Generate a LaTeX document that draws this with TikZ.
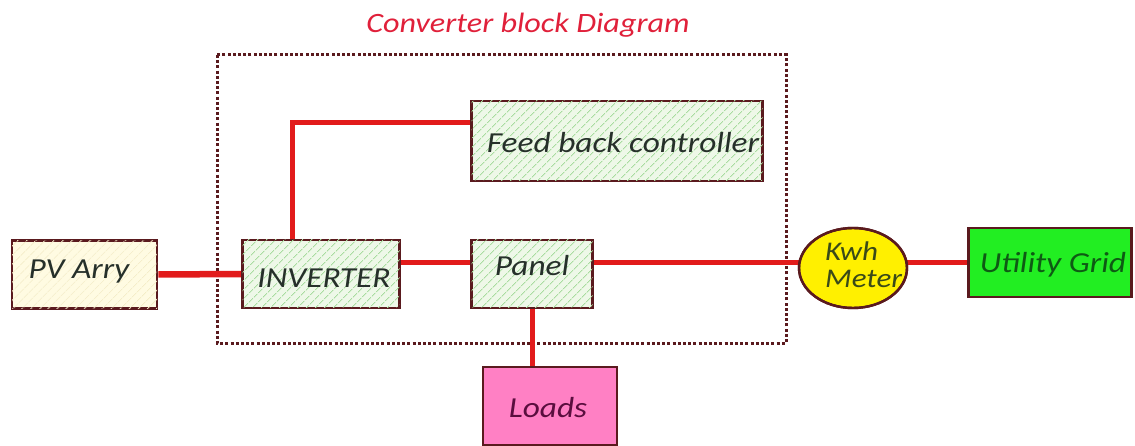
\documentclass[tikz,border=0pt]{standalone}
\usepackage{fontspec}
\usepackage{graphicx}
\setmainfont{Carlito}
\usetikzlibrary{patterns.meta,shapes.geometric,backgrounds}
\definecolor{wirered}{HTML}{E21B1B}
\definecolor{boxedge}{HTML}{5A1A1E}
\definecolor{hatchfill}{HTML}{EEF8E8}
\definecolor{hatchline}{HTML}{A9DCA0}
\definecolor{creamfill}{HTML}{FFFBE2}
\definecolor{creamline}{HTML}{F4ECC4}
\definecolor{txt}{HTML}{26302A}
\definecolor{metertxt}{HTML}{3A4A18}
\definecolor{gridtxt}{HTML}{0E5A14}
\definecolor{loadtxt}{HTML}{5A0E3E}
\definecolor{titlered}{HTML}{E0203A}
\definecolor{pinkfill}{HTML}{FF80C4}
\definecolor{gridgreen}{HTML}{22EE22}
\definecolor{meteryellow}{HTML}{FFF000}
\newcommand\wide[1]{\scalebox{1.15}[1]{#1}}
\tikzset{
  x=1pt,y=-1pt,
  lbl/.style={font=\fontsize{29}{31}\selectfont\itshape, text=txt},
  blk/.style={draw=boxedge, line width=2.8pt, rectangle, inner sep=0pt, lbl},
  hatched/.style={blk, fill=hatchfill, postaction={pattern={Lines[angle=45,distance=6.5pt,line width=0.9pt]}, pattern color=hatchline}},
  creamy/.style={blk, fill=creamfill, postaction={pattern={Lines[angle=45,distance=6.5pt,line width=0.8pt]}, pattern color=creamline}},
  wire/.style={draw=wirered, line width=5pt},
  frame/.style={draw=boxedge, line width=3pt, dash pattern=on 3pt off 2.2pt},
  metertext/.style={text=metertxt, font=\fontsize{27}{22}\selectfont\itshape, anchor=base west, inner sep=0pt}
}
\begin{document}
\begin{tikzpicture}
\useasboundingbox (0,0) rectangle (1135,446);
\node[creamy, minimum width=145pt, minimum height=68pt] (pv) at (84.5,274.5) {};
\node[lbl, anchor=west] (pvtext) at (25,272) {\wide{PV Arry}};
\node[hatched, minimum width=157pt, minimum height=68pt] (inv) at (321,274) {};
\node[lbl] (invtext) at (324,278) {\wide{INVERTER}};
\node[hatched, minimum width=121pt, minimum height=68pt] (panel) at (532,274) {};
\node[lbl] (paneltext) at (532,266) {\wide{Panel}};
\node[hatched, minimum width=291pt, minimum height=80pt] (fb) at (617,141) {};
\node[lbl] (fbtext) at (623,143) {\wide{Feed back controller}};
\node[ellipse, draw=boxedge, line width=2.4pt, fill=meteryellow, minimum width=108pt, minimum height=80pt, inner sep=0pt] (meter) at (853,268) {};
\begin{scope}
\clip (853,268) ellipse [x radius=53pt, y radius=39pt];
\node[metertext] (kwh) at (825,261) {\wide{Kwh}};
\node[metertext] (mtr) at (825,288) {\wide{Meter}};
\end{scope}
\draw[draw=boxedge, line width=2.4pt] (meter.center) ellipse [x radius=54pt, y radius=40pt];
\node[blk, fill=gridgreen, minimum width=163pt, minimum height=69pt] (grid) at (1050,262.5) {};
\node[lbl, text=gridtxt] (gridtext) at (1053,265) {\wide{Utility Grid}};
\node[blk, fill=pinkfill, minimum width=134pt, minimum height=78pt] (loads) at (550,406) {};
\node[lbl, text=loadtxt] (loadtext) at (548,408) {\wide{Loads}};
\node[font=\fontsize{28}{30}\selectfont\itshape, text=titlered] (title) at (528,25) {\wide{Converter block Diagram}};
\begin{scope}[on background layer]
\draw[frame] (217,55) rectangle (786,343);
\draw[wire, line width=6.5pt] (pv.east) -- (inv.west);
\draw[wire] ([yshift=11pt]inv.east) -- ([yshift=11pt]panel.west);
\draw[wire] ([yshift=11pt]panel.east) -- ([yshift=11pt]panel.east -| meter.center);
\draw[wire] (grid.west) -- (grid.west -| meter.center);
\draw[wire] ([xshift=-29pt]inv.north) |- ([yshift=18pt]fb.west);
\draw[wire] (panel.south) -- (panel.south |- loads.north);
\end{scope}
\end{tikzpicture}
\end{document}
